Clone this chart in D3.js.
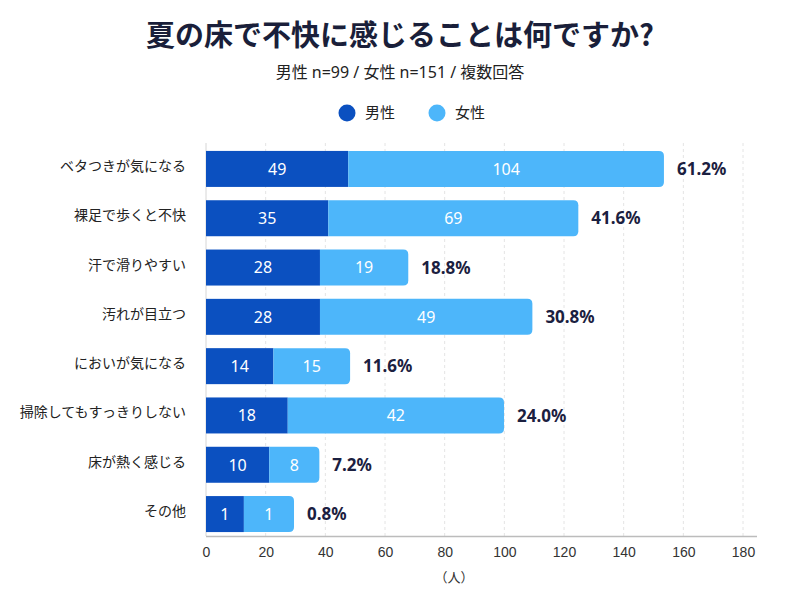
<!DOCTYPE html>
<meta charset="utf-8" />
<head>
  <style>
    body { margin: 0; background: #fff; }
    svg { display: block; font-family: "Noto Sans", "Noto Sans CJK JP", sans-serif; }
    .title { font-size: 29px; font-weight: 700; fill: #1a1f3a; font-family: "Noto Sans CJK JP", sans-serif; }
    .subtitle { font-size: 16px; fill: #222; }
    .legend text { font-size: 15px; fill: #222; }
    .cat { font-size: 14px; fill: #222; }
    .val { font-size: 16px; fill: #fff; }
    .pct { font-size: 17px; font-weight: 700; fill: #1b2040; }
    .tick text { font-size: 14px; fill: #333; }
    .grid { stroke: #e4e4e4; stroke-dasharray: 3,3; }
  </style>
  <script src="https://cdn.jsdelivr.net/npm/d3@7"></script>
</head>
<body>
<script>
  var categories = ["ベタつきが気になる", "裸足で歩くと不快", "汗で滑りやすい", "汚れが目立つ",
                    "においが気になる", "掃除してもすっきりしない", "床が熱く感じる", "その他"];
  // counts printed on the bars
  var maleCount = [49, 35, 28, 28, 14, 18, 10, 1];
  var femaleCount = [104, 69, 19, 49, 15, 42, 8, 1];
  var pctLabels = ["61.2%", "41.6%", "18.8%", "30.8%", "11.6%", "24.0%", "7.2%", "0.8%"];
  // segment lengths as drawn in the picture (axis units), they don't follow the counts exactly
  var maleBarLen = [47.7, 41, 38.2, 38.2, 22.6, 27.4, 21.2, 12.7];
  var femaleBarLen = [105.8, 83.8, 29.6, 71.2, 25.7, 72.5, 16.8, 16.8];
  var tickValues = [0, 20, 40, 60, 80, 100, 120, 140, 160, 180];
  var series = ["男性", "女性"];
  var colors = ["#0b50c0", "#4db6fa"];

  var width = 800, height = 600;

  var rows = categories.map(function(c, i) {
    return { cat: c, m: maleCount[i], f: femaleCount[i], pct: pctLabels[i],
             mLen: maleBarLen[i], fLen: femaleBarLen[i] };
  });

  var x = d3.scaleLinear().domain([0, 180]).range([206, 743]);
  var y = d3.scaleBand().domain(categories).range([146, 537])
    .paddingInner(0.27).paddingOuter(0.1);

  var svg = d3.select("body").append("svg")
    .attr("width", width)
    .attr("height", height);

  svg.append("text").attr("class", "title")
    .attr("x", 400).attr("y", 46).attr("text-anchor", "middle")
    .text("夏の床で不快に感じることは何ですか?");

  svg.append("text").attr("class", "subtitle")
    .attr("x", 400).attr("y", 78).attr("text-anchor", "middle")
    .text("男性 n=99 / 女性 n=151 / 複数回答");

  // legend
  var legend = svg.append("g").attr("class", "legend");
  var lx = [347, 437];
  series.forEach(function(s, i) {
    legend.append("circle").attr("cx", lx[i]).attr("cy", 113).attr("r", 8.5).attr("fill", colors[i]);
    legend.append("text").attr("x", lx[i] + 18).attr("y", 113).attr("dy", "0.36em").text(s);
  });

  // grid
  svg.append("g").selectAll("line")
    .data(tickValues.slice(1))
    .enter().append("line")
    .attr("class", "grid")
    .attr("x1", function(d) { return x(d); })
    .attr("x2", function(d) { return x(d); })
    .attr("y1", 143).attr("y2", 536);

  svg.append("line")
    .attr("x1", x(0)).attr("x2", x(0)).attr("y1", 143).attr("y2", 536)
    .attr("stroke", "#d6d6d6");

  // axis
  var axis = svg.append("g")
    .attr("transform", "translate(0,536.5)")
    .call(d3.axisBottom(x).tickValues(tickValues).tickSize(0).tickPadding(11));
  axis.select(".domain").remove();
  axis.selectAll("text").attr("font-family", null).attr("font-size", null);

  svg.append("line")
    .attr("x1", x(0)).attr("x2", 757).attr("y1", 536.5).attr("y2", 536.5)
    .attr("stroke", "#bcbcbc").attr("stroke-width", 1.5);

  svg.append("text")
    .attr("x", 454).attr("y", 577).attr("dy", "0.35em")
    .attr("text-anchor", "middle")
    .attr("font-size", 13).attr("fill", "#333")
    .text("（人）");

  // category labels
  svg.append("g").selectAll("text")
    .data(rows)
    .enter().append("text")
    .attr("class", "cat")
    .attr("x", 186)
    .attr("y", function(d) { return y(d.cat) + y.bandwidth() / 2 - 3; })
    .attr("dy", "0.36em")
    .attr("text-anchor", "end")
    .text(function(d) { return d.cat; });

  function roundRight(x0, y0, w, h, r) {
    return "M" + x0 + "," + y0 +
      "H" + (x0 + w - r) +
      "Q" + (x0 + w) + "," + y0 + " " + (x0 + w) + "," + (y0 + r) +
      "V" + (y0 + h - r) +
      "Q" + (x0 + w) + "," + (y0 + h) + " " + (x0 + w - r) + "," + (y0 + h) +
      "H" + x0 + "Z";
  }

  var bars = svg.append("g").selectAll("g")
    .data(rows)
    .enter().append("g");

  bars.append("rect")
    .attr("x", x(0))
    .attr("y", function(d) { return y(d.cat); })
    .attr("width", function(d) { return x(d.mLen) - x(0); })
    .attr("height", y.bandwidth())
    .attr("fill", colors[0]);

  bars.append("path")
    .attr("d", function(d) {
      var x0 = x(d.mLen), w = x(d.mLen + d.fLen) - x0;
      return roundRight(x0, y(d.cat), w, y.bandwidth(), 5);
    })
    .attr("fill", colors[1]);

  bars.append("text")
    .attr("class", "val")
    .attr("x", function(d) { return (x(0) + x(d.mLen)) / 2; })
    .attr("y", function(d) { return y(d.cat) + y.bandwidth() / 2; })
    .attr("dy", "0.36em")
    .attr("text-anchor", "middle")
    .text(function(d) { return d.m; });

  bars.append("text")
    .attr("class", "val")
    .attr("x", function(d) { return (x(d.mLen) + x(d.mLen + d.fLen)) / 2; })
    .attr("y", function(d) { return y(d.cat) + y.bandwidth() / 2; })
    .attr("dy", "0.36em")
    .attr("text-anchor", "middle")
    .text(function(d) { return d.f; });

  bars.append("text")
    .attr("class", "pct")
    .attr("x", function(d) { return x(d.mLen + d.fLen) + 13; })
    .attr("y", function(d) { return y(d.cat) + y.bandwidth() / 2; })
    .attr("dy", "0.36em")
    .text(function(d) { return d.pct; });
</script>
</body>
